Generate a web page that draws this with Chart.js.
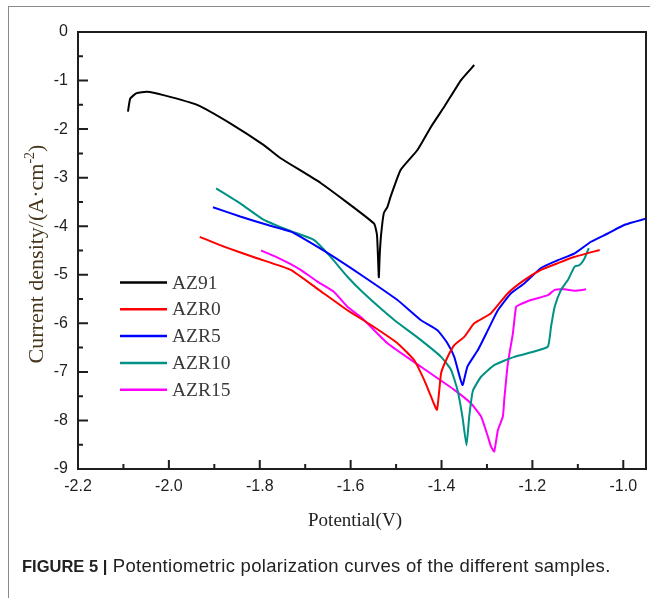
<!DOCTYPE html>
<html>
<head>
<meta charset="utf-8">
<script src="https://cdn.jsdelivr.net/npm/chart.js@4.4.1/dist/chart.umd.min.js"></script>
<style>
  html, body { margin: 0; padding: 0; background: #fff; }
  #wrap { position: relative; width: 650px; height: 598px; overflow: hidden; }
  #frame { position: absolute; left: 8px; top: 6px; right: -2px; bottom: -2px;
           border-left: 1.5px solid #8a8a8a; border-top: 1.5px solid #8a8a8a; }
  #chart { position: absolute; left: 0; top: 0; }
  #caption { position: absolute; left: 22px; top: 555px; font-family: "Liberation Sans", Arial, sans-serif;
             font-size: 18.5px; letter-spacing: 0.3px; color: #222; white-space: nowrap; }
  #caption b { font-weight: bold; font-size: 16.5px; letter-spacing: 0; }
</style>
</head>
<body>
<div id="wrap">
  <div id="frame"></div>
  <canvas id="chart" width="650" height="598"></canvas>
  <div id="caption"><b>FIGURE 5 |</b> Potentiometric polarization curves of the different samples.</div>
</div>
<script>
// Axis ticks
const xTicks = [-2.2, -2.0, -1.8, -1.6, -1.4, -1.2, -1.0];
const xMinorTicks = [-2.1, -1.9, -1.7, -1.5, -1.3, -1.1];
const yTicks = [0, -1, -2, -3, -4, -5, -6, -7, -8, -9];
const yMinorTicks = [-0.5, -1.5, -2.5, -3.5, -4.5, -5.5, -6.5, -7.5, -8.5];

// Series labels
const seriesNames = ['AZ91', 'AZR0', 'AZR5', 'AZR10', 'AZR15'];

// AZ91
const az91X = [-2.090, -2.085, -2.071, -2.048, -2.012, -1.938, -1.865, -1.791, -1.754, -1.666, -1.549,
               -1.542, -1.538, -1.536, -1.533, -1.527, -1.519, -1.512, -1.490, -1.453, -1.423, -1.394, -1.357, -1.328];
const az91Y = [-1.64, -1.37, -1.26, -1.23, -1.30, -1.50, -1.88, -2.33, -2.60, -3.11, -3.94,
               -4.18, -5.05, -4.59, -4.18, -3.73, -3.60, -3.39, -2.84, -2.43, -1.95, -1.54, -0.99, -0.68];

// AZR0
const azr0X = [-1.932, -1.879, -1.806, -1.732, -1.673, -1.607, -1.556, -1.497, -1.460, -1.438, -1.423, -1.410,
               -1.401, -1.390, -1.372, -1.350, -1.328, -1.291, -1.254, -1.218, -1.181, -1.144, -1.107, -1.052];
const azr0Y = [-4.22, -4.42, -4.66, -4.90, -5.29, -5.73, -6.03, -6.41, -6.76, -7.17, -7.51, -7.78,
               -7.03, -6.76, -6.45, -6.28, -6.00, -5.79, -5.38, -5.11, -4.90, -4.76, -4.63, -4.49];

// AZR5
const azr5X = [-1.903, -1.843, -1.784, -1.732, -1.710, -1.644, -1.571, -1.497, -1.446, -1.409, -1.387, -1.372, -1.354,
               -1.343, -1.320, -1.298, -1.276, -1.247, -1.218, -1.181, -1.144, -1.107, -1.071, -1.034, -0.997, -0.949];
const azr5Y = [-3.61, -3.80, -3.97, -4.11, -4.22, -4.59, -5.04, -5.52, -5.93, -6.14, -6.41, -6.69, -7.27,
               -6.89, -6.55, -6.14, -5.73, -5.38, -5.18, -4.86, -4.70, -4.56, -4.32, -4.15, -3.97, -3.84];

// AZR10
const azr10X = [-1.896, -1.843, -1.791, -1.732, -1.681, -1.644, -1.607, -1.571, -1.504, -1.446, -1.401, -1.379, -1.365, -1.354, -1.345,
                -1.339, -1.331, -1.313, -1.284, -1.240, -1.196, -1.166, -1.159, -1.151, -1.137, -1.122, -1.107, -1.096, -1.085, -1.076];
const azr10Y = [-3.22, -3.53, -3.87, -4.10, -4.28, -4.63, -5.04, -5.38, -5.93, -6.34, -6.69, -6.96, -7.37, -7.92, -8.51,
                -7.92, -7.39, -7.10, -6.86, -6.69, -6.58, -6.48, -6.07, -5.66, -5.31, -5.11, -4.83, -4.80, -4.66, -4.45];

// AZR15
const azr15X = [-1.797, -1.762, -1.732, -1.710, -1.673, -1.637, -1.607, -1.574, -1.519, -1.446, -1.372, -1.335, -1.313, -1.298, -1.291, -1.284,
                -1.276, -1.265, -1.262, -1.254, -1.243, -1.236, -1.229, -1.203, -1.166, -1.151, -1.129, -1.107, -1.082];
const azr15Y = [-4.50, -4.64, -4.78, -4.90, -5.14, -5.35, -5.66, -5.90, -6.41, -6.89, -7.37, -7.65, -7.92, -8.33, -8.54, -8.64,
                -8.20, -7.92, -7.58, -6.82, -6.21, -5.66, -5.62, -5.52, -5.42, -5.31, -5.30, -5.33, -5.30];

const seriesColors = ['#000000', '#ff0000', '#0000ff', '#009185', '#ff00ff'];

function toPoints(xs, ys) {
    return xs.map((x, i) => ({ x: x, y: ys[i] }));
}

const seriesData = [
    toPoints(az91X, az91Y),
    toPoints(azr0X, azr0Y),
    toPoints(azr5X, azr5Y),
    toPoints(azr10X, azr10Y),
    toPoints(azr15X, azr15Y)
];

const serifFont = '"Liberation Serif", "Times New Roman", serif';
const sansFont = '"Liberation Sans", Arial, sans-serif';

// Frame, inward ticks, axis titles and legend
const decorPlugin = {
    id: 'decor',
    afterDraw(chart) {
        const ctx = chart.ctx;
        const area = chart.chartArea;
        const xs = chart.scales.x;
        const ys = chart.scales.y;
        ctx.save();

        ctx.strokeStyle = '#1e1e1e';
        ctx.lineWidth = 2;
        ctx.strokeRect(area.left, area.top, area.right - area.left, area.bottom - area.top);

        ctx.beginPath();
        xTicks.forEach(v => {
            const px = xs.getPixelForValue(v);
            ctx.moveTo(px, area.bottom);
            ctx.lineTo(px, area.bottom - 9);
        });
        xMinorTicks.forEach(v => {
            const px = xs.getPixelForValue(v);
            ctx.moveTo(px, area.bottom);
            ctx.lineTo(px, area.bottom - 5);
        });
        yTicks.forEach(v => {
            const py = ys.getPixelForValue(v);
            ctx.moveTo(area.left, py);
            ctx.lineTo(area.left + 10, py);
        });
        yMinorTicks.forEach(v => {
            const py = ys.getPixelForValue(v);
            ctx.moveTo(area.left, py);
            ctx.lineTo(area.left + 5, py);
        });
        ctx.stroke();

        // x title
        ctx.fillStyle = '#222';
        ctx.font = '19px ' + serifFont;
        ctx.textAlign = 'center';
        ctx.textBaseline = 'middle';
        ctx.fillText('Potential(V)', (area.left + area.right) / 2 - 7, 521);

        // y title with superscript
        ctx.translate(35, 254);
        ctx.rotate(-Math.PI / 2);
        ctx.fillStyle = '#47371f';
        ctx.textAlign = 'left';
        ctx.textBaseline = 'alphabetic';
        const main = 'Current density/(A\u00b7cm';
        const sup = '-2';
        const tail = ')';
        ctx.font = '22px ' + serifFont;
        const w1 = ctx.measureText(main).width;
        const w3 = ctx.measureText(tail).width;
        ctx.font = '14px ' + serifFont;
        const w2 = ctx.measureText(sup).width;
        const start = -(w1 + w2 + w3) / 2;
        ctx.font = '22px ' + serifFont;
        ctx.fillText(main, start, 8);
        ctx.fillText(tail, start + w1 + w2, 8);
        ctx.font = '14px ' + serifFont;
        ctx.fillText(sup, start + w1, -1);
        ctx.restore();

        // legend
        ctx.save();
        ctx.font = '19.5px ' + serifFont;
        ctx.textBaseline = 'middle';
        ctx.lineWidth = 2.5;
        chart.data.datasets.forEach((ds, i) => {
            const y = 282.5 + i * 26.8;
            ctx.strokeStyle = ds.borderColor;
            ctx.beginPath();
            ctx.moveTo(120, y);
            ctx.lineTo(167, y);
            ctx.stroke();
            ctx.fillStyle = '#3a3a3a';
            ctx.fillText(ds.label, 172, y + 1);
        });
        ctx.restore();
    }
};

const ctx = document.getElementById('chart').getContext('2d');
const chart = new Chart(ctx, {
    type: 'scatter',
    data: {
        datasets: seriesData.map((pts, i) => ({
            label: seriesNames[i],
            data: pts,
            showLine: true,
            borderColor: seriesColors[i],
            backgroundColor: seriesColors[i],
            borderWidth: 2,
            pointRadius: 0,
            tension: 0.15
        }))
    },
    options: {
        responsive: false,
        devicePixelRatio: 1,
        animation: false,
        layout: {
            padding: { left: 0, top: 32, right: 4, bottom: 0 }
        },
        plugins: {
            legend: { display: false },
            tooltip: { enabled: false }
        },
        scales: {
            x: {
                type: 'linear',
                min: -2.2,
                max: -0.95,
                afterBuildTicks: function(scale) {
                    scale.ticks = xTicks.map(v => ({ value: v }));
                },
                afterFit: function(scale) {
                    scale.height = 129;
                },
                grid: { display: false, drawTicks: false },
                border: { display: false },
                ticks: {
                    padding: 8,
                    color: '#1e1e1e',
                    font: { family: sansFont, size: 16 },
                    callback: function(value) {
                        return value.toFixed(1);
                    }
                }
            },
            y: {
                type: 'linear',
                min: -9,
                max: 0,
                afterBuildTicks: function(scale) {
                    scale.ticks = yTicks.map(v => ({ value: v }));
                },
                afterFit: function(scale) {
                    scale.width = 78;
                },
                grid: { display: false, drawTicks: false },
                border: { display: false },
                ticks: {
                    padding: 10,
                    color: '#1e1e1e',
                    font: { family: sansFont, size: 16 },
                    callback: function(value) {
                        return String(Math.round(value));
                    }
                }
            }
        }
    },
    plugins: [decorPlugin]
});
</script>
</body>
</html>
